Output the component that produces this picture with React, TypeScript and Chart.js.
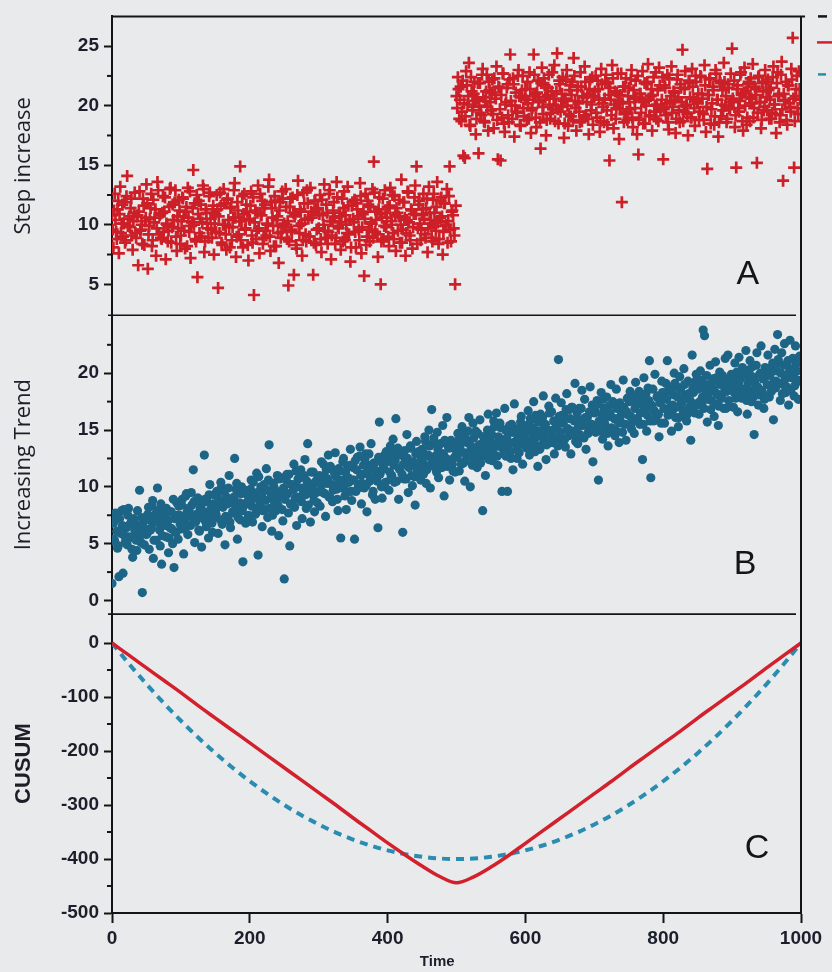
import React, { useEffect, useRef } from 'react';
import { Chart, registerables } from 'chart.js';

Chart.register(...registerables);

// the scatter series are sampled every 2 time units, with a second array offset by 1
const TIME_STEP = 2;
const ODD_OFFSET = 1;

// Panel A: step increase at t = 0, 2, 4, ... 998
const stepIncrease = [
  10.8, 8.1, 12.6, 9.4, 11.3, 7.6, 13.2, 10.1, 9.0, 11.9, 8.7, 14.1, 10.5, 9.8, 12.2, 7.9, 11.0, 9.3, 10.7, 6.6, 12.8, 9.6, 8.4, 11.6, 10.3,
  13.4, 6.3, 9.9, 11.4, 8.2, 12.1, 10.6, 7.4, 13.6, 9.2, 10.9, 8.8, 12.4, 11.1, 7.1, 10.0, 9.5, 13.0, 8.5, 11.7, 10.4, 12.9, 7.8, 9.7, 11.2,
  9.1, 12.3, 10.7, 8.0, 11.5, 13.1, 9.4, 7.2, 10.2, 14.6, 11.8, 8.6, 5.6, 12.0, 10.5, 9.0, 13.3, 7.7, 11.3, 10.1, 8.9, 12.7, 9.6, 11.0, 7.5,
  10.9, 12.5, 4.7, 9.3, 11.6, 8.3, 13.0, 10.0, 7.9, 12.2, 9.8, 11.4, 8.7, 10.6, 13.5, 7.3, 11.9, 9.2, 14.9, 10.3, 8.1, 12.6, 9.7, 11.1, 7.0,
  10.4, 12.8, 8.5, 4.1, 11.2, 9.5, 13.3, 7.6, 10.8, 12.0, 8.9, 11.7, 9.1, 10.0, 13.8, 7.8, 11.4, 9.9, 12.4, 8.2, 10.7, 6.8, 11.9, 9.4, 12.2,
  10.1, 13.0, 8.8, 4.9, 11.5, 9.6, 12.3, 5.8, 10.9, 8.0, 13.7, 9.3, 11.1, 7.4, 12.7, 10.4, 8.6, 11.8, 9.0, 13.1, 10.6, 5.8, 12.0, 8.3, 11.3,
  9.7, 12.5, 7.7, 10.8, 13.4, 8.9, 11.0, 9.4, 12.9, 7.1, 10.3, 11.9, 8.4, 13.6, 9.9, 10.7, 7.9, 12.2, 11.4, 8.7, 10.0, 13.2, 9.2, 6.9, 11.6,
  10.5, 12.1, 8.1, 11.3, 9.6, 13.5, 7.6, 10.9, 5.7, 12.6, 9.0, 11.7, 8.6, 10.2, 13.0, 15.3, 9.4, 11.1, 7.3, 12.3, 5.0, 10.6, 8.8, 12.9, 9.8,
  11.5, 8.2, 13.1, 10.0, 9.3, 12.4, 7.8, 11.0, 10.7, 8.5, 13.8, 9.6, 11.9, 7.4, 10.4, 12.7, 9.1, 11.3, 8.0, 10.9, 13.3, 14.9, 9.7, 12.0, 8.7,
  10.8, 12.6, 9.2, 11.4, 7.7, 13.2, 10.1, 8.9, 12.1, 11.0, 9.5, 13.6, 8.4, 10.6, 12.3, 7.5, 11.8, 9.9, 13.0, 10.3, 14.9, 8.6, 11.2, 9.7, 5.0,
  20.8, 22.4, 18.9, 21.6, 19.5, 15.8, 15.6, 22.9, 20.1, 23.6, 18.3, 21.2, 19.9, 22.0, 17.6, 20.6, 16.0, 21.9, 19.2, 23.1, 18.7, 20.4, 22.6, 17.9, 21.3,
  19.6, 22.2, 18.1, 20.9, 23.3, 15.5, 21.5, 15.4, 19.0, 22.7, 17.8, 20.3, 21.8, 18.6, 24.3, 20.0, 22.3, 17.4, 21.1, 19.4, 23.0, 18.4, 20.7, 22.5, 19.1,
  21.4, 18.8, 20.2, 22.8, 17.7, 19.8, 24.3, 21.0, 18.2, 22.1, 20.5, 16.4, 23.2, 19.3, 21.7, 17.5, 20.9, 22.6, 18.9, 21.2, 19.7, 23.4, 20.0, 24.4, 18.5,
  21.8, 19.9, 22.4, 17.3, 20.6, 23.0, 18.3, 21.3, 19.1, 22.0, 24.0, 20.4, 17.9, 21.6, 19.5, 22.8, 18.7, 20.8, 23.3, 19.2, 21.0, 17.6, 22.2, 20.1, 18.4,
  20.7, 22.5, 19.0, 21.4, 17.8, 23.1, 20.2, 18.6, 22.0, 19.6, 21.9, 15.4, 20.5, 23.4, 18.1, 21.2, 19.8, 22.7, 17.2, 20.9, 11.9, 21.6, 19.3, 22.3, 18.8,
  21.5, 19.7, 23.0, 18.2, 20.6, 22.1, 17.6, 15.9, 21.0, 19.4, 22.9, 20.3, 18.5, 21.8, 23.5, 19.1, 20.8, 17.9, 22.4, 20.0, 18.9, 21.3, 23.2, 19.6, 20.5,
  15.5, 21.7, 19.2, 22.6, 18.0, 20.4, 23.3, 19.9, 21.1, 17.7, 22.2, 20.7, 18.6, 21.5, 24.7, 19.5, 22.9, 20.1, 17.5, 21.9, 19.0, 23.1, 20.6, 18.3, 22.0,
  20.2, 18.8, 22.5, 21.0, 19.3, 23.4, 17.8, 14.7, 20.9, 22.3, 19.7, 21.6, 18.4, 23.0, 20.5, 17.4, 22.1, 19.1, 21.3, 23.6, 20.0, 18.6, 21.8, 19.8, 22.7,
  24.8, 20.4, 18.2, 14.8, 21.7, 19.5, 22.6, 20.9, 17.9, 23.2, 21.2, 19.0, 22.0, 18.7, 20.6, 23.5, 19.8, 21.4, 15.2, 22.4, 20.3, 18.1, 21.9, 19.6, 23.0,
  20.7, 22.2, 18.9, 21.5, 19.4, 23.3, 20.1, 17.7, 22.8, 21.0, 19.2, 23.7, 13.7, 20.5, 22.0, 18.4, 21.7, 19.9, 23.1, 25.7, 14.8, 20.8, 22.5, 19.3, 21.4,
];

// Panel A: step increase at t = 1, 3, 5, ... 999
const stepIncreaseOdd = [
  9.6, 11.2, 10.4, 8.8, 12.0, 10.9, 9.3, 11.7, 10.1, 8.5, 12.4, 9.9, 10.7, 11.4, 9.1, 10.3, 12.7, 8.9, 10.8, 11.1, 9.5, 10.0, 12.2, 8.3, 10.6,
  11.8, 9.2, 10.5, 12.6, 8.7, 10.2, 11.3, 9.7, 12.9, 10.8, 8.9, 11.0, 9.4, 12.3, 10.1, 8.6, 11.5, 13.1, 9.8, 10.4, 11.9, 9.0, 10.7, 12.1, 8.4,
  10.3, 12.2, 9.5, 11.1, 8.2, 10.6, 12.8, 9.9, 11.4, 10.0, 8.8, 12.5, 10.9, 9.3, 11.7, 10.2, 13.0, 8.6, 11.0, 9.7, 12.4, 10.5, 8.9, 11.6, 10.1,
  9.4, 11.3, 10.7, 12.7, 8.5, 10.0, 11.8, 9.2, 12.1, 10.4, 8.1, 11.5, 9.8, 12.9, 10.6, 9.0, 11.2, 10.3, 8.7, 12.4, 10.9, 9.6, 11.7, 8.3, 10.5,
  11.6, 9.1, 12.3, 10.2, 8.8, 11.0, 9.7, 12.6, 10.8, 8.4, 11.4, 9.5, 10.1, 13.2, 9.0, 11.9, 10.6, 8.2, 12.0, 10.4, 9.3, 11.2, 8.9, 12.8, 10.0,
  9.8, 11.5, 10.3, 8.6, 12.2, 9.4, 11.0, 10.7, 8.3, 12.5, 9.9, 11.3, 10.1, 8.7, 11.8, 9.2, 12.9, 10.5, 9.0, 11.1, 10.8, 8.5, 12.0, 9.6, 11.4,
  10.9, 8.8, 12.1, 10.0, 9.5, 11.7, 8.4, 12.6, 10.3, 9.1, 11.2, 10.6, 8.9, 12.3, 9.7, 11.0, 10.2, 8.6, 12.8, 10.8, 9.3, 11.6, 10.4, 8.1, 11.9,
  10.2, 9.4, 11.8, 10.7, 8.7, 12.4, 9.8, 11.1, 10.5, 8.3, 12.0, 9.6, 11.5, 10.1, 8.9, 12.7, 10.4, 9.2, 11.3, 10.9, 8.6, 12.2, 9.9, 11.0, 10.6,
  9.0, 11.6, 10.3, 12.5, 8.8, 10.8, 11.4, 9.5, 12.1, 10.0, 8.5, 11.9, 10.6, 9.3, 12.8, 10.2, 8.7, 11.2, 9.8, 12.3, 10.9, 8.4, 11.7, 10.1, 9.6,
  11.3, 10.5, 8.9, 12.2, 9.7, 11.0, 10.4, 8.6, 12.6, 9.9, 11.5, 10.2, 8.8, 12.0, 10.7, 9.4, 11.8, 10.0, 8.5, 12.4, 9.6, 11.1, 10.8, 9.1, 11.6,
  19.8, 21.4, 20.5, 18.7, 22.1, 20.2, 19.1, 21.7, 20.8, 18.4, 22.4, 19.6, 21.0, 20.4, 18.9, 21.9, 20.0, 19.4, 22.6, 20.7, 18.6, 21.2, 19.9, 22.0, 20.3,
  21.1, 19.3, 22.3, 20.6, 18.8, 21.6, 19.7, 20.9, 22.7, 18.5, 20.1, 21.5, 19.2, 22.2, 20.4, 18.9, 21.8, 20.0, 19.5, 22.5, 20.8, 18.3, 21.3, 19.8, 20.6,
  20.5, 22.0, 18.9, 21.4, 19.6, 20.8, 22.6, 19.0, 21.1, 20.3, 18.6, 21.9, 19.9, 22.3, 20.7, 18.8, 21.5, 20.1, 19.4, 22.8, 20.6, 18.7, 21.2, 19.7, 22.1,
  19.5, 21.0, 20.4, 18.5, 22.2, 20.0, 19.3, 21.7, 20.9, 18.8, 22.5, 19.8, 21.3, 20.2, 18.6, 21.6, 20.7, 19.1, 22.0, 20.3, 18.9, 21.4, 19.6, 22.4, 20.8,
  21.2, 19.4, 22.1, 20.5, 18.7, 21.8, 19.9, 20.6, 22.6, 18.4, 20.9, 21.5, 19.2, 22.3, 20.1, 18.9, 21.1, 20.4, 19.7, 22.7, 20.2, 18.6, 21.6, 19.5, 20.8,
  20.3, 22.2, 19.0, 21.3, 19.8, 20.7, 22.5, 18.8, 21.0, 20.4, 18.5, 21.9, 20.0, 22.0, 20.6, 19.2, 21.4, 20.9, 19.5, 22.8, 20.1, 18.7, 21.7, 19.9, 22.4,
  19.7, 21.5, 20.2, 18.6, 22.3, 20.8, 19.4, 21.2, 20.5, 18.9, 22.6, 19.6, 21.8, 20.3, 18.7, 21.4, 20.0, 19.3, 22.1, 20.7, 19.0, 21.6, 19.8, 22.5, 20.4,
  21.0, 19.5, 22.4, 20.6, 18.8, 21.7, 19.9, 20.9, 22.2, 18.5, 20.2, 21.3, 19.1, 22.7, 20.5, 18.6, 21.9, 20.1, 19.6, 22.0, 20.8, 18.9, 21.5, 19.7, 20.3,
  20.6, 22.1, 19.2, 21.4, 19.8, 20.4, 22.8, 18.7, 21.1, 20.0, 18.4, 21.8, 20.7, 22.3, 20.2, 19.0, 21.6, 20.9, 19.4, 22.5, 20.3, 18.8, 21.2, 19.9, 22.0,
  19.6, 21.3, 20.5, 18.9, 22.4, 20.1, 19.3, 21.9, 20.8, 18.6, 22.6, 19.7, 21.0, 20.4, 18.8, 21.7, 20.2, 19.5, 22.2, 20.6, 18.7, 21.4, 19.8, 22.9, 20.5,
];

// Panel B: increasing trend at t = 0, 2, 4, ... 998
const increasingTrend = [
  1.5, 6.8, 5.2, 7.4, 4.6, 2.1, 6.1, 7.9, 2.4, 5.7, 6.5, 4.9, 8.1, 5.5, 6.9, 3.8, 7.2, 5.9, 4.4, 6.6, 9.7, 5.1, 0.7, 7.0, 6.3,
  5.8, 7.6, 4.5, 6.2, 8.3, 3.7, 6.9, 5.3, 9.9, 7.3, 4.8, 3.2, 6.7, 8.0, 5.6, 7.1, 4.2, 6.4, 7.8, 5.0, 2.9, 6.0, 8.6, 5.4, 7.5,
  6.3, 8.9, 4.1, 7.2, 9.4, 5.8, 7.9, 6.6, 8.4, 11.5, 5.1, 7.0, 9.0, 6.2, 8.1, 4.7, 7.6, 12.8, 6.9, 8.7, 5.5, 10.2, 7.4, 6.0, 9.3,
  7.8, 9.6, 5.9, 8.3, 10.4, 6.7, 8.8, 4.9, 9.1, 7.3, 11.0, 6.4, 8.6, 7.7, 12.5, 9.8, 5.4, 8.0, 7.1, 10.0, 3.4, 8.5, 6.8, 9.3, 7.5,
  8.7, 10.6, 6.9, 9.4, 7.6, 11.2, 4.0, 8.2, 10.0, 6.5, 9.7, 8.0, 11.6, 7.3, 13.7, 9.0, 6.1, 10.3, 8.5, 7.9, 11.0, 5.7, 9.2, 10.8, 7.0,
  1.9, 9.3, 11.1, 7.7, 4.8, 10.2, 8.4, 12.0, 9.0, 6.6, 10.7, 8.9, 11.5, 7.2, 9.6, 12.4, 8.1, 13.8, 10.0, 6.9, 9.4, 11.3, 7.8, 10.5, 8.6,
  10.9, 8.3, 12.2, 9.5, 11.0, 7.4, 10.3, 12.8, 9.1, 11.6, 8.7, 10.1, 13.0, 9.8, 7.9, 11.4, 5.5, 10.6, 12.5, 9.2, 8.0, 11.8, 10.4, 13.3, 8.8,
  11.7, 5.4, 9.6, 12.6, 10.2, 13.5, 8.5, 11.1, 9.9, 12.9, 7.8, 11.9, 10.5, 13.8, 9.3, 12.1, 8.9, 10.8, 6.4, 15.7, 11.4, 9.0, 12.7, 10.0, 13.1,
  12.3, 9.7, 13.6, 11.0, 14.2, 10.4, 16.0, 12.8, 8.9, 11.5, 13.1, 6.0, 10.7, 12.4, 14.6, 9.5, 11.8, 13.4, 10.1, 12.0, 8.4, 14.0, 11.3, 12.9, 10.6,
  13.3, 11.1, 14.4, 10.3, 12.7, 15.0, 9.9, 16.8, 12.2, 13.9, 11.6, 14.8, 10.8, 13.0, 12.5, 15.4, 9.2, 11.9, 16.1, 13.6, 10.6, 14.1, 12.0, 13.4, 11.3,
  12.9, 14.7, 11.4, 13.8, 15.3, 12.1, 10.5, 14.2, 13.0, 16.1, 10.0, 13.5, 15.6, 12.4, 14.9, 11.7, 13.2, 15.9, 12.6, 7.9, 14.4, 11.0, 13.7, 16.4, 12.8,
  14.5, 12.3, 15.8, 13.6, 16.5, 11.9, 14.1, 15.2, 9.6, 13.3, 16.9, 12.7, 9.6, 14.8, 13.0, 15.5, 11.5, 17.3, 14.0, 12.5, 15.1, 13.8, 16.2, 12.0, 14.6,
  15.2, 13.4, 16.7, 12.8, 15.9, 14.3, 17.5, 13.1, 16.0, 11.8, 14.9, 16.4, 13.7, 18.0, 15.3, 12.4, 14.7, 17.1, 13.9, 16.6, 15.0, 12.9, 17.8, 14.2, 21.2,
  15.6, 17.4, 14.0, 16.3, 13.5, 18.2, 15.1, 16.8, 12.9, 17.0, 14.6, 19.1, 15.8, 13.8, 16.9, 14.4, 18.5, 15.4, 17.7, 13.3, 16.1, 14.9, 18.8, 15.5, 12.2,
  16.5, 14.8, 17.6, 10.6, 15.7, 18.3, 14.2, 16.9, 15.2, 17.9, 13.6, 16.2, 19.0, 15.0, 17.3, 14.5, 18.6, 16.0, 13.9, 17.1, 15.6, 19.4, 16.6, 14.1, 17.8,
  16.3, 18.4, 15.1, 17.6, 14.7, 19.2, 16.0, 18.1, 15.5, 17.3, 12.4, 19.6, 16.8, 14.9, 18.7, 21.1, 10.8, 17.0, 15.8, 19.9, 16.4, 18.0, 14.4, 17.5, 19.3,
  17.9, 15.6, 19.1, 21.1, 16.7, 18.5, 14.9, 17.2, 20.0, 16.1, 18.8, 15.3, 19.7, 17.6, 16.3, 20.4, 18.1, 15.8, 19.3, 17.0, 14.1, 21.6, 18.3, 16.5, 19.9,
  18.6, 16.4, 20.2, 17.3, 23.8, 23.3, 19.0, 15.7, 18.9, 20.7, 17.6, 19.5, 16.2, 21.0, 18.2, 15.4, 20.1, 17.8, 19.8, 16.9, 21.3, 18.4, 21.6, 17.1, 19.6,
  19.2, 17.0, 20.9, 18.5, 16.6, 21.4, 19.7, 17.8, 20.3, 18.0, 22.0, 16.4, 19.4, 21.1, 17.5, 20.6, 14.6, 18.7, 21.8, 17.2, 19.9, 22.4, 18.3, 16.9, 20.5,
  19.8, 21.6, 17.9, 20.4, 18.6, 15.9, 22.1, 19.3, 23.4, 20.9, 17.6, 21.8, 19.0, 22.6, 18.3, 20.7, 17.2, 22.9, 19.6, 21.3, 18.0, 22.4, 20.2, 17.7, 21.5,
];

// Panel B: increasing trend at t = 1, 3, 5, ... 999
const increasingTrendOdd = [
  6.9, 5.4, 7.7, 6.1, 4.8, 7.2, 5.9, 6.6, 8.0, 5.1, 6.4, 7.5, 5.6, 6.8, 4.5, 7.0, 6.2, 5.3, 7.9, 6.0, 5.7, 7.3, 6.5, 4.9, 7.1,
  5.9, 8.2, 7.1, 6.4, 8.8, 5.3, 7.6, 6.9, 7.9, 6.2, 8.5, 5.7, 7.4, 6.6, 8.1, 7.0, 5.5, 7.8, 6.3, 8.9, 7.2, 6.0, 7.5, 8.3, 6.7,
  8.4, 7.0, 6.3, 9.2, 7.8, 8.1, 6.6, 9.5, 7.3, 8.7, 6.9, 7.6, 9.0, 6.1, 8.3, 7.9, 7.2, 8.9, 6.5, 7.7, 9.3, 8.0, 6.8, 8.5, 7.4,
  7.6, 9.3, 8.8, 7.1, 10.0, 8.2, 9.6, 7.4, 8.5, 9.9, 6.9, 8.9, 7.8, 9.1, 8.0, 10.3, 7.3, 8.6, 9.4, 7.9, 8.3, 9.7, 7.0, 8.7, 9.2,
  9.8, 8.3, 10.4, 9.0, 7.7, 9.5, 10.9, 8.6, 9.2, 7.9, 10.2, 8.8, 9.7, 10.6, 8.1, 9.3, 7.5, 10.0, 8.9, 9.6, 8.4, 10.7, 9.1, 8.0, 9.9,
  8.9, 10.6, 9.4, 11.1, 8.5, 10.2, 9.7, 8.2, 11.4, 10.0, 9.1, 10.8, 8.7, 9.9, 11.0, 9.3, 10.5, 8.4, 9.6, 11.3, 10.1, 8.8, 10.4, 9.5, 10.9,
  11.0, 9.8, 10.3, 12.0, 9.4, 11.5, 10.7, 9.1, 11.8, 10.2, 9.7, 11.2, 10.9, 8.9, 11.6, 10.4, 9.9, 12.2, 10.0, 11.3, 9.5, 10.8, 11.9, 9.6, 10.6,
  10.6, 12.3, 11.5, 9.9, 12.7, 11.0, 10.3, 11.9, 12.4, 10.1, 11.3, 12.9, 10.8, 11.7, 9.6, 12.1, 11.4, 10.5, 12.6, 11.1, 10.0, 12.0, 11.6, 10.4, 12.2,
  12.6, 11.3, 10.8, 13.0, 11.9, 12.3, 10.5, 13.4, 11.6, 12.8, 11.1, 12.0, 13.2, 10.7, 12.5, 11.7, 13.6, 11.0, 12.2, 10.9, 12.9, 11.4, 13.1, 11.8, 12.4,
  13.1, 12.0, 14.0, 11.5, 12.8, 13.6, 11.9, 12.4, 14.3, 12.7, 11.3, 13.3, 12.2, 13.8, 11.7, 12.9, 14.1, 12.5, 11.8, 13.4, 12.1, 13.9, 11.4, 12.6, 13.5,
  12.6, 14.1, 13.4, 12.0, 14.6, 13.0, 12.3, 13.9, 14.9, 12.8, 13.6, 11.9, 14.3, 13.2, 12.5, 14.7, 13.7, 12.1, 13.8, 14.4, 12.9, 13.5, 15.0, 12.4, 14.0,
  14.6, 13.2, 15.3, 13.8, 12.7, 14.4, 15.6, 13.5, 14.1, 12.9, 15.0, 14.3, 13.6, 15.4, 12.5, 14.8, 13.9, 15.1, 13.3, 14.5, 13.0, 15.7, 14.2, 13.7, 14.9,
  15.4, 14.0, 13.5, 16.0, 14.8, 15.2, 13.8, 16.3, 14.4, 15.7, 13.3, 14.9, 16.1, 14.2, 15.5, 13.7, 15.0, 16.5, 14.6, 13.9, 15.8, 14.3, 15.3, 13.6, 16.2,
  14.8, 16.3, 15.6, 14.2, 16.8, 15.1, 14.5, 16.0, 17.0, 14.9, 15.8, 14.0, 16.5, 15.3, 14.6, 16.9, 15.9, 14.3, 16.1, 15.5, 14.7, 16.6, 15.2, 17.2, 15.0,
  16.7, 15.4, 17.3, 15.8, 14.9, 16.4, 17.7, 15.6, 16.2, 14.7, 17.1, 16.5, 15.2, 17.5, 16.0, 15.0, 16.9, 15.7, 17.4, 16.3, 14.8, 17.0, 15.5, 16.6, 17.8,
  17.5, 16.2, 15.7, 18.0, 16.9, 17.3, 15.9, 18.4, 16.5, 17.8, 15.5, 17.0, 18.2, 16.3, 17.6, 15.8, 17.2, 18.6, 16.7, 16.0, 17.9, 16.4, 17.4, 15.6, 18.3,
  16.9, 18.3, 17.7, 16.3, 18.8, 17.1, 16.6, 18.1, 19.1, 17.0, 17.9, 16.1, 18.6, 17.4, 16.7, 19.0, 18.0, 16.4, 18.2, 17.6, 16.8, 18.7, 17.3, 19.3, 17.2,
  18.8, 17.5, 19.4, 17.9, 16.9, 18.5, 19.8, 17.7, 18.3, 16.8, 19.2, 18.6, 17.3, 19.6, 18.1, 17.1, 19.0, 17.8, 19.5, 18.4, 16.9, 19.1, 17.6, 18.7, 19.9,
  19.6, 18.3, 17.8, 20.1, 19.0, 19.4, 18.0, 20.5, 18.6, 19.9, 17.6, 19.1, 20.3, 18.4, 19.7, 17.9, 19.3, 20.7, 18.8, 18.1, 20.0, 18.5, 19.5, 17.7, 20.4,
  19.0, 20.4, 19.8, 18.4, 20.9, 19.2, 18.7, 20.2, 21.2, 19.1, 20.0, 18.2, 20.7, 19.5, 18.8, 21.1, 20.1, 18.5, 20.3, 19.7, 18.9, 20.8, 19.4, 21.4, 19.3,
];

// Panel C: CUSUM curves
const cusumTime = [
  0, 25, 50, 75, 100, 125, 150, 175, 200, 225, 250, 275, 300, 325, 350, 375, 400, 425, 450, 475, 500,
  525, 550, 575, 600, 625, 650, 675, 700, 725, 750, 775, 800, 825, 850, 875, 900, 925, 950, 975, 1000,
];
const cusumStep = [
  0, -23, -46, -69, -92, -116, -139, -162, -185, -208, -231, -254, -277, -300, -324, -347, -370, -392, -413, -432, -444,
  -433, -415, -394, -371, -348, -325, -302, -279, -256, -232, -209, -186, -163, -139, -116, -93, -70, -46, -23, 0,
];
const cusumTrend = [
  0, -39, -76, -111, -144, -175, -204, -231, -256, -279, -300, -319, -336, -351, -364, -375, -384, -391, -396, -399, -400,
  -399, -396, -391, -384, -375, -364, -351, -336, -319, -300, -279, -256, -231, -204, -175, -144, -111, -76, -39, 0,
];

// axis ticks
const timeTicks = [0, 200, 400, 600, 800, 1000];
const stepTicks = [5, 10, 15, 20, 25];
const stepMinorTicks = [7.5, 12.5, 17.5, 22.5];
const trendTicks = [0, 5, 10, 15, 20];
const trendMinorTicks = [2.5, 7.5, 12.5, 17.5, 22.5];
const cusumTicks = [0, -100, -200, -300, -400, -500];
const cusumMinorTicks = [-50, -150, -250, -350, -450];

const panelNames = ['A', 'B', 'C'];

const INK = '#151515';
const TICK_TEXT = '#1b1f2c';
const RED = '#cc1f27';
const RED_LINE = '#d2202d';
const TEAL = '#1d6587';
const BLUE_DASH = '#2a8cb0';
const BG = '#e9eaec';

const tickFont = { family: '"Liberation Sans", Arial, sans-serif', size: 19, weight: 'bold' as const };

function toPoints(even: number[], odd: number[]) {
  const pts = even.map((v, i) => ({ x: i * TIME_STEP, y: v }));
  odd.forEach((v, i) => pts.push({ x: i * TIME_STEP + ODD_OFFSET, y: v }));
  return pts;
}

function App() {
  const ref = useRef<HTMLCanvasElement | null>(null);

  useEffect(() => {
    const canvas = ref.current;
    if (!canvas) return;

    const framePlugin = {
      id: 'frame',
      afterDraw(chart: any) {
        const { ctx, chartArea: a, scales } = chart;
        ctx.save();
        ctx.strokeStyle = INK;
        ctx.lineWidth = 2;
        ctx.beginPath();
        ctx.moveTo(a.left, a.top);
        ctx.lineTo(a.right + 4, a.top);
        ctx.moveTo(a.right, a.top);
        ctx.lineTo(a.right, a.bottom);
        ctx.stroke();
        ctx.lineWidth = 1.6;
        ['yA', 'yB'].forEach((id) => {
          const s = scales[id];
          ctx.beginPath();
          ctx.moveTo(a.left - 4, s.bottom);
          ctx.lineTo(a.right - 5, s.bottom);
          ctx.stroke();
        });
        ctx.lineWidth = 2;
        const minors: [string, number[]][] = [
          ['yA', stepMinorTicks],
          ['yB', trendMinorTicks],
          ['yC', cusumMinorTicks],
        ];
        minors.forEach(([id, vals]) => {
          const s = scales[id];
          vals.forEach((v) => {
            const y = s.getPixelForValue(v);
            ctx.beginPath();
            ctx.moveTo(s.right - 5, y);
            ctx.lineTo(s.right, y);
            ctx.stroke();
          });
        });
        ctx.fillStyle = INK;
        ctx.font = '34px "Liberation Sans", Arial, sans-serif';
        ctx.textAlign = 'center';
        ctx.textBaseline = 'middle';
        const x = scales.x;
        ctx.fillText(panelNames[0], x.getPixelForValue(923), scales.yA.getPixelForValue(5.8));
        ctx.fillText(panelNames[1], x.getPixelForValue(919), scales.yB.getPixelForValue(3.2));
        ctx.fillText(panelNames[2], x.getPixelForValue(936), scales.yC.getPixelForValue(-380));
        ctx.fillStyle = TICK_TEXT;
        ctx.font = 'bold 15px "Liberation Sans", Arial, sans-serif';
        ctx.fillText('Time', x.getPixelForValue(472), a.bottom + 49);
        ctx.lineWidth = 2.5;
        ctx.strokeStyle = INK;
        ctx.beginPath(); ctx.moveTo(a.right + 17, a.top); ctx.lineTo(a.right + 26, a.top); ctx.stroke();
        ctx.strokeStyle = RED_LINE;
        ctx.beginPath(); ctx.moveTo(a.right + 16, a.top + 26); ctx.lineTo(a.right + 31, a.top + 26); ctx.stroke();
        ctx.strokeStyle = BLUE_DASH;
        ctx.beginPath(); ctx.moveTo(a.right + 17, a.top + 58); ctx.lineTo(a.right + 25, a.top + 58); ctx.stroke();
        ctx.restore();
      },
    };

    const yScale = (ticks: number[], min: number, max: number, title: string, titleFont: any) => ({
      type: 'linear' as const,
      position: 'left' as const,
      stack: 'panels',
      stackWeight: 1,
      min,
      max,
      afterBuildTicks: (s: any) => {
        s.ticks = ticks.map((v) => ({ value: v }));
      },
      afterFit: (s: any) => {
        s.width = 112;
      },
      ticks: { font: tickFont, color: TICK_TEXT, padding: 5, callback: (v: any) => String(v) },
      grid: { drawOnChartArea: false, drawTicks: true, tickLength: 8, tickColor: INK, tickWidth: 2 },
      border: { display: true, color: INK, width: 2 },
      title: { display: true, text: title, color: '#1c1f28', font: titleFont, padding: { top: 11, bottom: 0 } },
    });

    const chart = new Chart(canvas, {
      type: 'scatter',
      data: {
        datasets: [
          {
            label: 'CUSUM step',
            data: cusumTime.map((t, i) => ({ x: t, y: cusumStep[i] })),
            yAxisID: 'yC',
            showLine: true,
            borderColor: RED_LINE,
            borderWidth: 3.5,
            pointRadius: 0,
            cubicInterpolationMode: 'monotone',
          },
          {
            label: 'CUSUM trend',
            data: cusumTime.map((t, i) => ({ x: t, y: cusumTrend[i] })),
            yAxisID: 'yC',
            showLine: true,
            borderColor: BLUE_DASH,
            borderWidth: 4,
            borderDash: [8, 6],
            pointRadius: 0,
            cubicInterpolationMode: 'monotone',
          },
          {
            label: 'Step increase',
            data: toPoints(stepIncrease, stepIncreaseOdd),
            yAxisID: 'yA',
            pointStyle: 'cross',
            pointRadius: 6,
            pointBorderColor: RED,
            pointBackgroundColor: RED,
            pointBorderWidth: 2.7,
          },
          {
            label: 'Increasing Trend',
            data: toPoints(increasingTrend, increasingTrendOdd),
            yAxisID: 'yB',
            pointStyle: 'circle',
            pointRadius: 4.6,
            pointBorderWidth: 0,
            pointBorderColor: TEAL,
            pointBackgroundColor: TEAL,
          },
        ],
      } as any,
      options: {
        responsive: false,
        animation: false,
        events: [],
        layout: { padding: { top: 13, right: 31, left: 0, bottom: 0 } },
        plugins: { legend: { display: false }, tooltip: { enabled: false } },
        scales: {
          x: {
            type: 'linear',
            position: 'bottom',
            min: 0,
            max: 1000,
            afterBuildTicks: (s: any) => {
              s.ticks = timeTicks.map((v) => ({ value: v }));
            },
            afterFit: (s: any) => {
              s.height = 59;
            },
            ticks: { font: tickFont, color: TICK_TEXT, padding: 4, maxRotation: 0, callback: (v: any) => String(v) },
            grid: { drawOnChartArea: false, drawTicks: true, tickLength: 10, tickColor: INK, tickWidth: 2 },
            border: { display: true, color: INK, width: 2 },
          },
          yC: yScale(cusumTicks, -500, 53.5, 'CUSUM', { family: '"Liberation Sans", Arial, sans-serif', size: 22, weight: 'bold' }),
          yB: yScale(trendTicks, -1.2, 25.1, 'Increasing Trend', { family: '"Open Sans", sans-serif', size: 22 }),
          yA: yScale(stepTicks, 2.4, 27.5, 'Step increase', { family: '"Open Sans", sans-serif', size: 22 }),
        },
      } as any,
      plugins: [framePlugin],
    });

    return () => chart.destroy();
  }, []);

  return (
    <div style={{ position: 'fixed', left: 0, top: 0, width: 832, height: 972, background: BG }}>
      <canvas ref={ref} width={832} height={972} style={{ width: 832, height: 972, display: 'block' }} />
    </div>
  );
}

export default App;
